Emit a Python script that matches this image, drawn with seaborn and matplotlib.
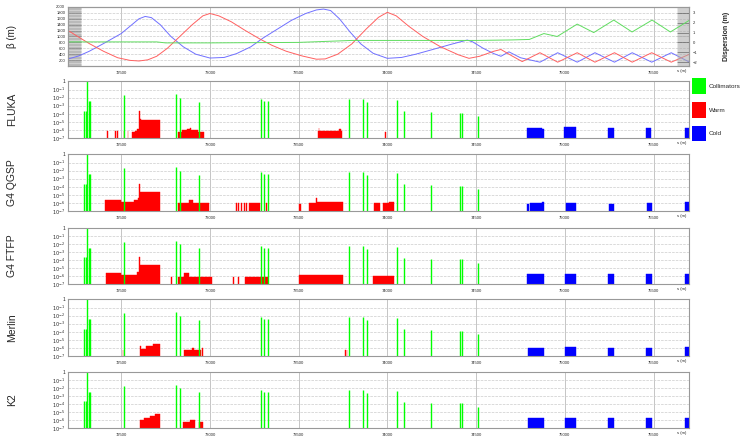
import matplotlib
matplotlib.use("Agg")
import matplotlib.pyplot as plt
import matplotlib.ticker as mticker
from matplotlib.patches import Patch
import numpy as np
import pandas as pd
import seaborn as sns

# ---------------- optics (top panel) ----------------
betx_s = [72207, 72260, 72320, 72400, 72500, 72560, 72600, 72635, 72670, 72720, 72780,
          72850, 72920, 73000, 73080, 73150, 73230, 73300, 73380, 73460, 73540, 73600,
          73640, 73680, 73730, 73790, 73850, 73920, 74000, 74080, 74160, 74250, 74350,
          74450, 74480, 74540, 74600, 74640, 74685, 74750, 74860, 74960, 75070, 75170,
          75280, 75380, 75490, 75600, 75703]
betx = [250, 340, 500, 760, 1100, 1400, 1600, 1680, 1640, 1400, 1000,
        650, 400, 270, 290, 420, 650, 950, 1250, 1550, 1780, 1900,
        1930, 1880, 1600, 1150, 750, 430, 260, 290, 400, 550, 720,
        880, 820, 600, 420, 330, 480, 280, 130, 450, 130, 450, 130, 450, 130, 450, 130]
bety_s = [72207, 72260, 72320, 72400, 72480, 72550, 72600, 72650, 72700, 72760, 72830,
          72900, 72960, 73000, 73050, 73120, 73200, 73280, 73350, 73430, 73520, 73600,
          73650, 73720, 73800, 73880, 73950, 74000, 74050, 74120, 74200, 74300, 74400,
          74460, 74520, 74600, 74640, 74700, 74760, 74860, 74960, 75070, 75170, 75280,
          75380, 75490, 75600, 75703]
bety = [1180, 980, 760, 500, 280, 190, 170, 210, 330, 600, 1000,
        1400, 1700, 1780, 1700, 1500, 1200, 920, 700, 500, 340, 230,
        240, 400, 750, 1250, 1650, 1820, 1700, 1350, 1000, 650, 380,
        260, 330, 500, 560, 350, 150, 450, 130, 450, 130, 450, 130, 450, 130, 400]
disp_s = [72207, 72500, 72700, 72750, 73000, 73500, 73800, 74100, 74500, 74700,
          74800, 74882, 74957, 75070, 75163, 75276, 75379, 75492, 75595, 75704]
disp = [0.05, 0.05, 0.05, -0.05, -0.05, 0.0, 0.2, 0.2, 0.2, 0.25,
        0.3, 0.9, 0.6, 1.86, 1.0, 2.27, 1.06, 2.27, 1.06, 2.27]

# ---------------- losses (log10 of local loss) ----------------
coll_s = [72292, 72300, 72309, 72318, 72323, 72517, 72810, 72832, 72940, 73288, 73306,
          73329, 73785, 73864, 73883, 74057, 74091, 74246, 74409, 74420, 74509]
coll_v = [-3.6, -3.6, 0.0, -2.4, -2.4, -1.7, -1.6, -2.0, -2.5, -2.2, -2.4,
          -2.4, -2.2, -2.2, -2.6, -2.3, -3.7, -3.8, -3.9, -3.9, -4.3]

fluka_warm = [(72418, 72423, -6.1), (72466, 72470, -6.1), (72476, 72480, -6.1),
              (72513, 72517, -6.1), (72536, 72540, -6.1), (72562, 72575, -6.3),
              (72575, 72590, -6.1), (72590, 72600, -5.9), (72600, 72606, -3.6),
              (72606, 72612, -4.6), (72612, 72716, -4.75), (72819, 72840, -6.2),
              (72840, 72870, -6.0), (72870, 72885, -5.9), (72885, 72895, -5.7),
              (72895, 72930, -6.0), (72930, 72967, -6.2), (73607, 73612, -6.1),
              (73612, 73617, -5.7), (73617, 73730, -6.1), (73730, 73737, -5.9),
              (73737, 73747, -6.1), (73985, 73990, -6.2)]
fluka_cold = [(74786, 74800, -5.8), (74800, 74870, -5.7), (74870, 74880, -5.9),
              (74998, 75064, -5.6), (75241, 75275, -5.7), (75460, 75488, -5.8),
              (75678, 75703, -5.7)]

qgsp_warm = [(72406, 72500, -5.6), (72500, 72570, -5.85), (72570, 72595, -5.6),
             (72595, 72602, -5.4), (72602, 72608, -3.6), (72608, 72716, -4.63),
             (72819, 72880, -6.06), (72880, 72905, -5.65), (72905, 72997, -6.06),
             (73147, 73152, -6.06), (73160, 73165, -6.06), (73175, 73180, -6.06),
             (73190, 73196, -6.06), (73205, 73210, -6.06), (73220, 73282, -6.0),
             (73318, 73323, -6.06), (73503, 73513, -6.1), (73560, 73600, -6.06),
             (73600, 73606, -5.4), (73606, 73748, -5.9), (73925, 73960, -6.06),
             (73975, 74010, -6.06), (74010, 74038, -5.9)]
qgsp_cold = [(74786, 74800, -6.1), (74805, 74870, -6.06), (74870, 74880, -5.85),
             (75004, 75064, -6.0), (75250, 75280, -6.1), (75463, 75491, -6.0),
             (75680, 75704, -5.9)]

ftfp_warm = [(72416, 72500, -5.67), (72500, 72590, -5.9), (72590, 72602, -5.5),
             (72602, 72608, -3.6), (72608, 72716, -4.6), (72783, 72788, -6.08),
             (72819, 72855, -6.08), (72855, 72880, -5.67), (72880, 73013, -6.08),
             (73130, 73135, -6.08), (73160, 73165, -6.08), (73200, 73330, -6.08),
             (73500, 73748, -5.9), (73920, 74040, -6.0)]
ftfp_cold = [(74786, 74880, -5.8), (75000, 75064, -5.7), (75245, 75280, -5.8),
             (75460, 75490, -5.8), (75678, 75703, -5.7)]

merlin_warm = [(72508, 72512, -6.2), (72603, 72610, -5.8), (72610, 72640, -6.1),
               (72640, 72680, -5.8), (72680, 72716, -5.5), (72856, 72900, -6.2),
               (72900, 72910, -6.0), (72910, 72950, -6.2), (72955, 72960, -6.0),
               (73760, 73765, -6.2), (73770, 73775, -6.2)]
merlin_cold = [(74790, 74880, -6.0), (75000, 75064, -5.9), (75245, 75280, -6.0),
               (75460, 75490, -6.0), (75678, 75703, -5.9)]

k2_warm = [(72603, 72630, -6.0), (72630, 72660, -5.75), (72660, 72690, -5.5),
           (72690, 72716, -5.25), (72847, 72890, -6.3), (72890, 72913, -6.0),
           (72940, 72960, -6.3)]
k2_cold = [(74790, 74880, -5.8), (75000, 75064, -5.7), (75245, 75280, -5.8),
           (75460, 75490, -5.8), (75678, 75703, -5.7)]

codes = ["FLUKA", "G4 QGSP", "G4 FTFP", "Merlin", "K2"]
warm_sets = [fluka_warm, qgsp_warm, ftfp_warm, merlin_warm, k2_warm]
cold_sets = [fluka_cold, qgsp_cold, ftfp_cold, merlin_cold, k2_cold]

# ---------------- figure ----------------
sns.set_style("white")
plt.rcParams['font.family'] = ['Liberation Sans', 'DejaVu Sans']
plt.rcParams['patch.force_edgecolor'] = False

W, H = 742, 436
fig = plt.figure(figsize=(W / 100, H / 100), dpi=100)

X0, X1 = 72200, 75700
LEFT, RIGHT = 68, 689
panel_px = [(7, 66), (81, 138), (154, 211), (228, 284), (299, 356), (372, 428)]


def make_axes(top, bottom):
    return fig.add_axes([LEFT / W, 1 - bottom / H, (RIGHT - LEFT) / W, (bottom - top) / H])


def style_x(ax):
    ax.set_xlim(X0, X1)
    ax.xaxis.set_major_locator(mticker.MultipleLocator(500))
    ax.xaxis.set_minor_locator(mticker.MultipleLocator(100))
    ax.tick_params(axis='x', which='major', labelsize=3, length=2, pad=1.5, color='#444444')
    ax.tick_params(axis='x', which='minor', length=1.2, color='#444444')
    ax.xaxis.set_major_formatter(mticker.FuncFormatter(
        lambda v, p: f"{int(v)}" if X0 < v < X1 else ""))
    ax.grid(True, axis='x', which='major', color='#bbbbbb', lw=0.6)
    ax.text(0.995, -0.05, "s (m)", transform=ax.transAxes, ha='right', va='top', fontsize=3)
    for sp in ax.spines.values():
        sp.set_color('#999999')
        sp.set_linewidth(0.8)


def draw_bars(ax, segs, col):
    s0 = np.array([a for a, b, v in segs])
    wdt = np.array([b - a for a, b, v in segs])
    hgt = 10.0 ** np.array([v for a, b, v in segs])
    ax.bar(s0, hgt - 1e-7, width=wdt, bottom=1e-7, align='edge',
           facecolor=col, edgecolor=col, linewidth=0.3)


# top optics panel
ax0 = make_axes(*panel_px[0])
opt = pd.concat([
    pd.DataFrame({"s": betx_s, "beta": betx, "plane": "x"}),
    pd.DataFrame({"s": bety_s, "beta": bety, "plane": "y"}),
])
sns.lineplot(data=opt, x="s", y="beta", hue="plane", palette={"x": "#7070ff", "y": "#ff6060"},
             lw=0.7, legend=False, ax=ax0, sort=False)
ax0.set_ylim(0, 2000)
ax0.yaxis.set_major_locator(mticker.MultipleLocator(200))
ax0.yaxis.set_minor_locator(mticker.MultipleLocator(20))
ax0.yaxis.set_major_formatter(mticker.FuncFormatter(lambda v, p: f"{int(v)}" if v > 0 else ""))
ax0.tick_params(axis='y', which='major', direction='in', length=9, width=0.5,
                color='#555555', labelsize=3, pad=2)
ax0.tick_params(axis='y', which='minor', direction='in', length=9, width=0.4, color='#aaaaaa')
ax0.grid(True, axis='y', which='major', color='#cccccc', lw=0.5, ls='--')
ax0.set_xlabel("")
ax0.set_ylabel("")
style_x(ax0)

ax0r = ax0.twinx()
sns.lineplot(x=disp_s, y=disp, color="#60dd60", lw=0.7, ax=ax0r)
ax0r.set_ylim(-2.4, 3.6)
ax0r.yaxis.set_major_locator(mticker.MultipleLocator(1))
ax0r.yaxis.set_minor_locator(mticker.MultipleLocator(0.1))
ax0r.tick_params(axis='y', which='major', direction='in', length=9, width=0.5,
                 color='#555555', labelsize=3, pad=3)
ax0r.tick_params(axis='y', which='minor', direction='in', length=9, width=0.4, color='#aaaaaa')
ax0r.set_xlim(X0, X1)
for sp in ax0r.spines.values():
    sp.set_color('#999999')
    sp.set_linewidth(0.8)

fig.text(12 / W, 1 - 36 / H, "β (m)", rotation=90, ha='center', va='center', fontsize=7)
fig.text(727 / W, 1 - 36 / H, "Dispersion (m)", rotation=90, ha='center', va='center',
         fontsize=5, fontweight='bold')

# loss panels
dec_labels = ["$10^{-7}$", "$10^{-6}$", "$10^{-5}$", "$10^{-4}$", "$10^{-3}$",
              "$10^{-2}$", "$10^{-1}$", "1"]
for i, name in enumerate(codes):
    top, bottom = panel_px[i + 1]
    ax = make_axes(top, bottom)
    ax.set_yscale('log')
    draw_bars(ax, warm_sets[i], '#ff0000')
    draw_bars(ax, cold_sets[i], '#0000ff')
    ax.vlines(coll_s, 1e-7, 10.0 ** np.array(coll_v), color='#00ff00', lw=1.0)
    ax.set_ylim(1e-7, 1.15)
    ax.yaxis.set_major_locator(mticker.FixedLocator([10.0 ** k for k in range(-7, 1)]))
    ax.yaxis.set_major_formatter(mticker.FixedFormatter(dec_labels))
    ax.yaxis.set_minor_locator(mticker.LogLocator(base=10, subs=np.arange(2, 10), numticks=20))
    ax.yaxis.set_minor_formatter(mticker.NullFormatter())
    ax.tick_params(axis='y', which='major', direction='in', length=10, width=0.8,
                   color='#222222', labelsize=3.5, pad=2)
    ax.tick_params(axis='y', which='minor', direction='in', length=10, width=0.5, color='#888888')
    ax.grid(True, axis='y', which='major', color='#cccccc', lw=0.5, ls='--')
    style_x(ax)
    fig.text(12 / W, 1 - (top + bottom) / 2 / H, name, rotation=90, ha='center',
             va='center', fontsize=7.5)

handles = [Patch(facecolor='#00ff00', edgecolor='none'),
           Patch(facecolor='#ff0000', edgecolor='none'),
           Patch(facecolor='#0000ff', edgecolor='none')]
fig.legend(handles, ["Collimators", "Warm", "Cold"], loc='upper left',
           bbox_to_anchor=(691 / W, 1 - 77 / H), frameon=False, fontsize=4.6,
           handlelength=2.2, handleheight=3.4, labelspacing=1.25, handletextpad=0.4,
           borderaxespad=0, borderpad=0.2)

fig.savefig("out.png", dpi=100)
